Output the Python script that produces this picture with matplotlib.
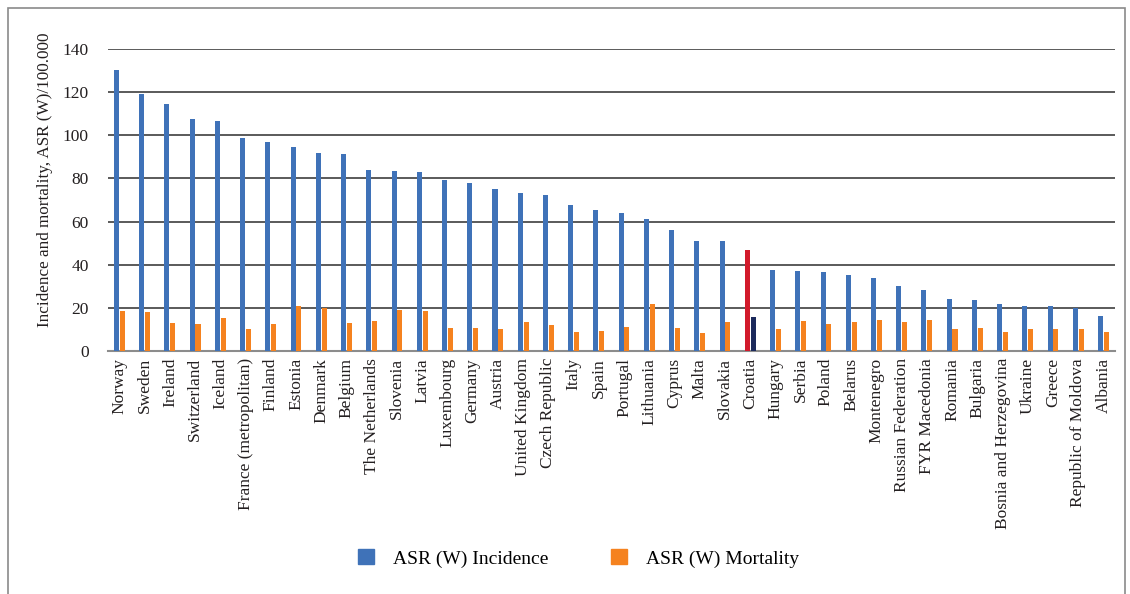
"""
ASR (W) incidence and mortality by European country, grouped bars.
"""
import matplotlib
matplotlib.use("Agg")
import matplotlib.pyplot as plt
from matplotlib.patches import Rectangle, Patch
import numpy as np

countries = [
    "Norway", "Sweden", "Ireland", "Switzerland", "Iceland", "France (metropolitan)",
    "Finland", "Estonia", "Denmark", "Belgium", "The Netherlands", "Slovenia", "Latvia",
    "Luxembourg", "Germany", "Austria", "United Kingdom", "Czech Republic", "Italy",
    "Spain", "Portugal", "Lithuania", "Cyprus", "Malta", "Slovakia", "Croatia",
    "Hungary", "Serbia", "Poland", "Belarus", "Montenegro", "Russian Federation",
    "FYR Macedonia", "Romania", "Bulgaria", "Bosnia and Herzegovina", "Ukraine",
    "Greece", "Republic of Moldova", "Albania",
]
incidence = [
    130.3, 119.1, 114.5, 107.6, 106.6, 98.7, 96.9, 94.6, 91.8, 91.3, 83.9, 83.4, 83.0,
    79.3, 77.9, 75.1, 73.2, 72.3, 67.7, 65.4, 64.0, 61.2, 56.0, 51.0, 51.0, 46.8,
    37.5, 37.1, 36.6, 35.2, 33.8, 30.1, 28.3, 24.1, 23.6, 21.8, 20.9, 20.9, 19.9, 16.2,
]
mortality = [
    18.6, 18.0, 13.0, 12.5, 15.3, 10.2, 12.5, 20.9, 20.0, 13.0, 13.9, 19.0, 18.5,
    10.7, 10.7, 10.2, 13.4, 12.0, 8.8, 9.3, 11.0, 21.8, 10.7, 8.3, 13.4, 15.8,
    10.2, 13.9, 12.5, 13.4, 14.4, 13.4, 14.4, 10.2, 10.7, 8.8, 10.2, 10.2, 10.2, 8.8,
]
highlight = "Croatia"

blue, orange = "#3F72B8", "#F5821F"
red, navy = "#D21A2B", "#1C2A5C"

plt.rcParams["font.family"] = ["Liberation Serif", "DejaVu Serif"]

fig = plt.figure(figsize=(11.3, 5.94), dpi=100)
ax = fig.add_axes([0.0956, 0.409, 0.891, 0.5085])

x = np.arange(len(countries))
inc_col = [red if c == highlight else blue for c in countries]
mort_col = [navy if c == highlight else orange for c in countries]
ax.bar(x - 0.115, incidence, width=0.2, color=inc_col, zorder=3)
ax.bar(x + 0.115, mortality, width=0.2, color=mort_col, zorder=3)

ax.set_xlim(-0.45, len(countries) - 0.55)
ax.set_ylim(0, 140)
ax.set_yticks(range(0, 141, 20))
ax.yaxis.grid(True, color="#4d4d4d", lw=1.3, zorder=0)
ax.set_xticks(x)
ax.set_xticklabels(countries, rotation=90, fontsize=12.5, color="#231f20")
ax.tick_params(axis="y", labelsize=12.5, colors="#231f20", length=0, pad=14)
ax.tick_params(axis="x", length=0, pad=5)
for s in ["top", "right", "left"]:
    ax.spines[s].set_visible(False)
ax.spines["bottom"].set_color("#8c8c8c")
ax.spines["bottom"].set_linewidth(1.5)
ax.set_ylabel("Incidence and mortality, ASR (W)/100.000", fontsize=12.3, color="#231f20",
              va="center")
ax.yaxis.set_label_coords(-0.0626, 0.566)

handles = [Patch(color=blue), Patch(color=orange)]
fig.legend(handles, ["ASR (W) Incidence", "ASR (W) Mortality"], loc="center",
           bbox_to_anchor=(0.512, 0.06), ncol=2, frameon=False, fontsize=14,
           handlelength=0.82, handleheight=0.82, columnspacing=3.2, handletextpad=1.0)

fig.patches.append(Rectangle((8 / 1130, -0.01), 1117 / 1130, 1 - 8 / 594 + 0.01,
                             transform=fig.transFigure, fill=False,
                             edgecolor="#8a8a8a", lw=1.2))

fig.savefig("out.png", dpi=100)
plt.close(fig)
